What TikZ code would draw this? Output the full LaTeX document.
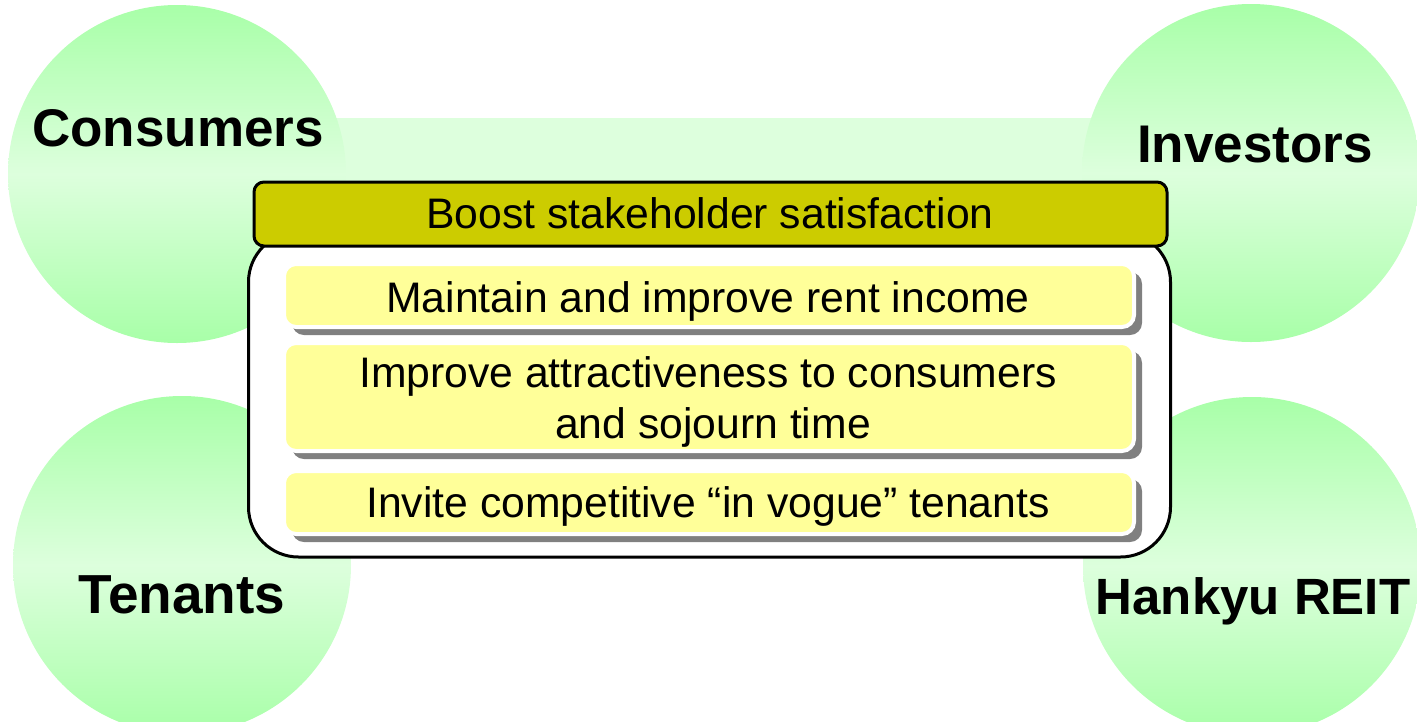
\documentclass[tikz,border=0pt]{standalone}
\usepackage{fontspec}
\setmainfont{Liberation Sans}
\usetikzlibrary{shadows}
\definecolor{gtop}{RGB}{168,255,168}
\definecolor{gmid}{RGB}{221,255,221}
\definecolor{bandgreen}{RGB}{221,255,221}
\definecolor{olive}{RGB}{204,204,0}
\definecolor{lemon}{RGB}{255,255,153}
\definecolor{shgray}{RGB}{128,128,128}
\begin{document}
\begin{tikzpicture}[x=1pt,y=-1pt,
  stake/.style={circle,inner sep=0pt,minimum size=338pt,draw=none,
    top color=gtop,bottom color=gtop,middle color=gmid},
  stakename/.style={anchor=base,inner sep=0pt,font=\fontsize{53}{60}\selectfont\bfseries},
  goaltext/.style={anchor=base,inner sep=0pt,font=\fontsize{42.7}{50}\selectfont},
  outerframe/.style={draw=black,fill=white,line width=3pt,rounded corners=50pt,inner sep=0pt},
  headbox/.style={draw=black,fill=olive,line width=3pt,rounded corners=10pt,inner sep=0pt},
  goalbox/.style={draw=white,fill=lemon,line width=4pt,rounded corners=12pt,inner sep=0pt,
    minimum width=850pt,
    drop shadow={shadow xshift=8pt,shadow yshift=-8pt,fill=shgray,opacity=1}}]
\useasboundingbox (0,0) rectangle (1417,721);
\clip (0,0) rectangle (1417,721);

% light green band joining the four stakeholders
\fill[bandgreen] (177,118) rectangle (1251,320);

% stakeholder circles
\node[stake] (cons) at (177,174) {};
\node[stake] (inv)  at (1251,173) {};
\node[stake] (ten)  at (182,565) {};
\node[stake] (reit) at (1252,566) {};

\node[stakename] (consL) at (178,146) {Consumers};
\node[stakename] (invL)  at (1255,162) {Investors};
\node[stakename,font=\fontsize{55}{60}\selectfont\bfseries] (tenL) at (182,613) {Tenants};
\node[stakename,font=\fontsize{51}{60}\selectfont\bfseries] (reitL) at (1253,614) {Hankyu REIT};

% central panel
\node[outerframe,minimum width=922pt,minimum height=325pt] (panel) at (709.5,394.5) {};
\node[headbox,minimum width=913pt,minimum height=64pt] (head) at (710.5,214) {};
\node[goaltext] (headT) at (710,228) {Boost stakeholder satisfaction};

% goals
\node[goalbox,minimum height=63pt]  (g1) at (709,295.5) {};
\node[goalbox,minimum height=108pt] (g2) at (709,397) {};
\node[goalbox,minimum height=63pt]  (g3) at (709,502.5) {};

\node[goaltext] (g1T)  at (708,312) {Maintain and improve rent income};
\node[goaltext] (g2Ta) at (708,387) {Improve attractiveness to consumers};
\node[goaltext] (g2Tb) at (713,438) {and sojourn time};
\node[goaltext] (g3T)  at (708,517) {Invite competitive “in vogue” tenants};
\end{tikzpicture}
\end{document}
